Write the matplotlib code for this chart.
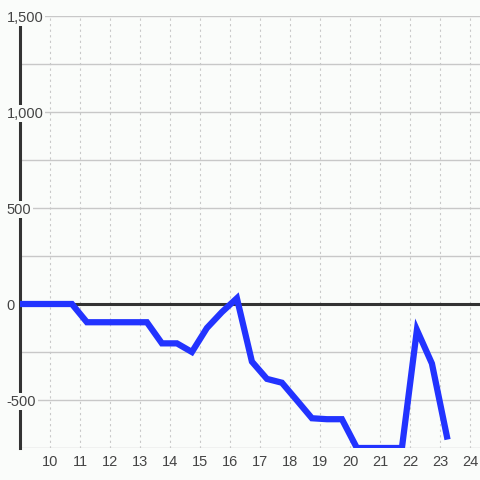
import matplotlib
matplotlib.use("Agg")
import matplotlib.pyplot as plt

plt.rcParams['font.family'] = ['Liberation Sans', 'DejaVu Sans']

# Values
x_vals = [8.73, 9.23, 9.73, 10.23, 10.73, 11.23, 11.73, 12.23, 12.73, 13.23,
          13.73, 14.23, 14.73, 15.23, 15.73, 16.23, 16.73, 17.23, 17.73, 18.23,
          18.73, 19.23, 19.73, 20.23, 20.73, 21.23, 21.73, 22.23, 22.73, 23.23]
y_vals = [0, 0, 0, 0, 0, -95, -95, -95, -95, -95,
          -205, -205, -250, -125, -42, 30, -300, -390, -410, -502,
          -595, -600, -600, -750, -750, -750, -750, -135, -310, -690]
x_ticks = list(range(10, 25))
y_ticks = [-500, 0, 500, 1000, 1500]
y_grid = [-750, -250, 250, 750, 1250]

bg = '#fafcfa'
fig = plt.figure(figsize=(4.8, 4.8), dpi=100, facecolor=bg)
ax = fig.add_axes([20 / 480, 32 / 480, 460 / 480, 432 / 480])
ax.set_facecolor(bg)

ax.set_xlim(9, 24.333)
ax.set_ylim(-750, 1500)

# grid
for v in y_ticks + y_grid:
    ax.axhline(v, color='#c8c8c8', lw=1, zorder=1)
for v in x_ticks:
    ax.axvline(v, color='#c8c8c8', lw=0.8, ls=(0, (2, 3)), zorder=1)

ax.axhline(0, color='#333333', lw=2.2, zorder=3)
ax.plot(x_vals, y_vals, color='#2233ff', lw=4.5, solid_joinstyle='miter',
        clip_on=True, zorder=4)

for s in ['top', 'right', 'bottom']:
    ax.spines[s].set_visible(False)
ax.spines['left'].set_color('#333333')
ax.spines['left'].set_linewidth(2.2)
ax.spines['left'].set_zorder(2)

ax.set_xticks(x_ticks)
ax.set_xticklabels([str(t) for t in x_ticks])
ax.set_yticks(y_ticks)
ax.set_yticklabels(['{:,}'.format(t) for t in y_ticks])
ax.tick_params(axis='both', length=0, labelsize=10.5, labelcolor='#444444')
ax.tick_params(axis='x', pad=5)
ax.tick_params(axis='y', pad=9.5)
ax.yaxis.set_zorder(3.5)
for lab in ax.get_yticklabels():
    lab.set_horizontalalignment('left')
    lab.set_bbox(dict(facecolor=bg, edgecolor='none', pad=1))

fig.savefig('out.png', dpi=100, facecolor=bg)
